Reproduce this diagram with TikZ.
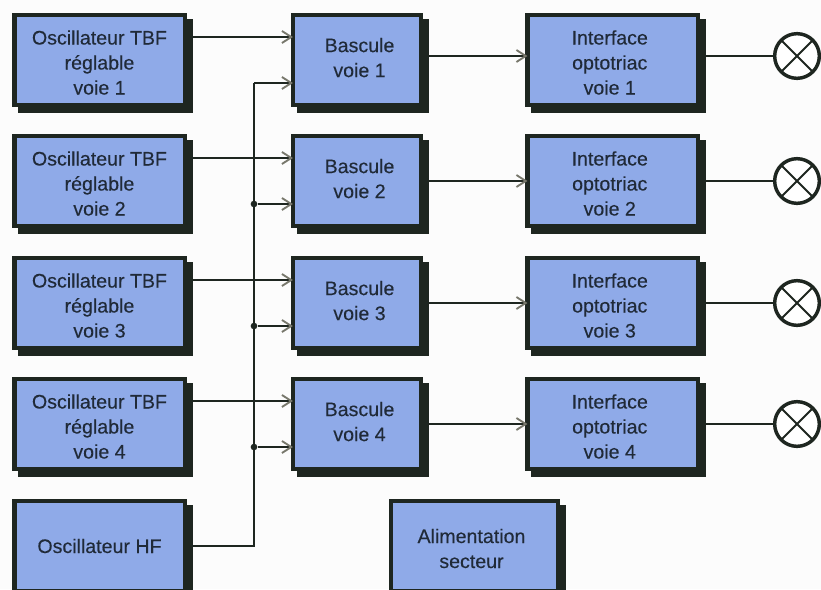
\documentclass[tikz,border=0pt]{standalone}
\usepackage{fontspec}
\setmainfont{Liberation Sans}[FakeBold=0.3]
\usetikzlibrary{arrows.meta,shadows}
\definecolor{boxBlue}{RGB}{143,170,232}
\definecolor{boxDark}{RGB}{30,38,32}
\definecolor{textDark}{RGB}{32,42,56}
\definecolor{tipGray}{RGB}{120,120,108}
%% text sits a little off the middle of the boxes
\newcommand{\textDown}{\rule{0pt}{14.4pt}}
\newcommand{\textUp}{\rule[-3.8pt]{0pt}{0pt}}
\newcommand{\textLeft}{\kern4.5pt\relax}
\newcommand{\textRight}{\hspace*{3.8pt}}

\begin{document}
\begin{tikzpicture}
[x=.75pt,y=-.75pt,%
  boxDecorate/.style={shape=rectangle,draw=boxDark,fill=boxBlue,line width=3.4pt,%
    inner sep=0pt,outer sep=0pt,minimum height=67.5pt,align=center,text=textDark,%
    font=\fontsize{14.7}{18.75}\selectfont,%
    drop shadow={shadow xshift=4.5pt,shadow yshift=-4.5pt,opacity=1,fill=boxDark,draw=boxDark,line width=3.4pt}},%
  oscDecorate/.style={boxDecorate,minimum width=127.9pt},%
  basDecorate/.style={boxDecorate,minimum width=96pt},%
  intDecorate/.style={boxDecorate,minimum width=127.9pt},%
  aliDecorate/.style={boxDecorate,minimum width=125.25pt},%
  lampDecorate/.style={shape=circle,draw=boxDark,fill=white,line width=2.6pt,inner sep=0pt,%
    outer sep=0pt,minimum size=33.5pt,%
    path picture={\draw[line width=1.4pt,boxDark]
      (path picture bounding box.north west) -- (path picture bounding box.south east)
      (path picture bounding box.north east) -- (path picture bounding box.south west);}},%
  dotDecorate/.style={shape=circle,fill=boxDark,inner sep=0pt,minimum size=5pt},%
  lineDecorate/.style={draw=boxDark,line width=1.2pt},%
  arrowDecorate/.style={lineDecorate,-{Straight Barb[color=tipGray,length=7pt,width=9pt,line width=1.4pt]}}]
\useasboundingbox (0,0) rectangle (821,589);
\fill[white!99!black] (0,0) rectangle (821,589);
%% nodes or vertices
\foreach \rowname/\y/\ylamp in {1/60/56, 2/181/181, 3/303/303, 4/424/424}
{
  \node (o\rowname) at (99.5,\y) [oscDecorate] {\textDown Oscillateur TBF\\réglable\\voie \rowname};
  \node (b\rowname) at (357,\y) [basDecorate] {\textRight Bascule\\\textRight voie \rowname\textUp};
  \node (i\rowname) at (612.75,\y) [intDecorate] {\textDown Interface\textLeft\\optotriac\textLeft\\voie \rowname\textLeft};
  \node (l\rowname) at (797,\ylamp) [lampDecorate] {};
}
\node (h) at (99.5,546) [oscDecorate] {Oscillateur HF};
\node (a) at (474.5,546) [aliDecorate] {\textDown Alimentation\textLeft\\secteur\textLeft};
\coordinate (busTop) at (254,83);
\foreach \rowname/\y in {2/204, 3/326, 4/447}
{
  \node (d\rowname) at (254,\y) [dotDecorate] {};
}
%% edges or lines
\draw[lineDecorate] (h.east) -| (busTop);
\draw[arrowDecorate] (busTop) -- (b1.west |- busTop);
\foreach \rowname in {1,2,3,4}
{
  \draw[arrowDecorate] ([yshift=17.25pt]o\rowname.east) -- ([yshift=17.25pt]b\rowname.west);
  \draw[arrowDecorate] (b\rowname.east |- l\rowname) -- (i\rowname.west |- l\rowname);
  \draw[lineDecorate] (i\rowname.east |- l\rowname) -- (l\rowname);
}
\foreach \rowname in {2,3,4}
{
  \draw[arrowDecorate] (d\rowname) -- (b\rowname.west |- d\rowname);
}
\end{tikzpicture}
\end{document}
